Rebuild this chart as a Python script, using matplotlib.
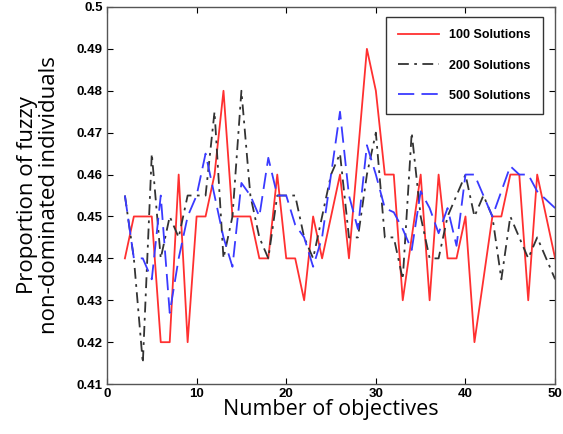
import numpy as np
import matplotlib
matplotlib.use("Agg")
import matplotlib.pyplot as plt

# number of objectives
objectives = list(range(2, 51))

sol_100 = [0.44, 0.45, 0.45, 0.45, 0.42, 0.42, 0.46, 0.42, 0.45, 0.45,
           0.46, 0.48, 0.45, 0.45, 0.45, 0.44, 0.44, 0.46, 0.44, 0.44,
           0.43, 0.45, 0.44, 0.45, 0.46, 0.44, 0.465, 0.49, 0.48, 0.46,
           0.46, 0.43, 0.445, 0.46, 0.43, 0.46, 0.44, 0.44, 0.45, 0.42,
           0.435, 0.45, 0.45, 0.46, 0.46, 0.43, 0.46, 0.45, 0.44]

sol_200 = [0.455, 0.44, 0.415, 0.465, 0.44, 0.45, 0.445, 0.455, 0.455, 0.455,
           0.475, 0.44, 0.45, 0.48, 0.455, 0.445, 0.44, 0.455, 0.455, 0.455,
           0.445, 0.44, 0.45, 0.46, 0.465, 0.445, 0.445, 0.46, 0.47, 0.445,
           0.445, 0.435, 0.47, 0.45, 0.44, 0.44, 0.45, 0.455, 0.46, 0.45,
           0.455, 0.45, 0.435, 0.45, 0.445, 0.44, 0.445, 0.44, 0.435]

sol_500 = [0.455, 0.44, 0.44, 0.435, 0.455, 0.427, 0.44, 0.45, 0.455, 0.465,
           0.455, 0.445, 0.438, 0.458, 0.455, 0.45, 0.464, 0.455, 0.455, 0.448,
           0.445, 0.438, 0.445, 0.46, 0.475, 0.455, 0.447, 0.467, 0.46, 0.452,
           0.451, 0.447, 0.442, 0.456, 0.452, 0.446, 0.452, 0.443, 0.46, 0.46,
           0.455, 0.45, 0.456, 0.462, 0.46, 0.46, 0.456, 0.454, 0.452]

x_ticks = [0, 10, 20, 30, 40, 50]
y_ticks = [0.41, 0.42, 0.43, 0.44, 0.45, 0.46, 0.47, 0.48, 0.49, 0.5]
y_tick_labels = ["0.41", "0.42", "0.43", "0.44", "0.45", "0.46", "0.47",
                 "0.48", "0.49", "0.5"]

fig = plt.figure(figsize=(5.63, 4.34), dpi=100)
ax = fig.add_axes([0.19, 0.115, 0.796, 0.869])

ax.plot(objectives, sol_100, color="#ff3030", linewidth=1.3,
        label="100 Solutions")
ax.plot(objectives, sol_200, color="#333333", linewidth=1.3,
        linestyle=(0, (6, 3, 1.5, 3)), label="200 Solutions")
ax.plot(objectives, sol_500, color="#3a3aff", linewidth=1.3,
        linestyle=(0, (9, 4)), label="500 Solutions")

ax.set_xlim(0, 50)
ax.set_ylim(0.41, 0.5)
ax.set_xticks(x_ticks)
ax.set_xticklabels([str(t) for t in x_ticks], fontweight="bold",
                   fontsize=9.5, family="Liberation Sans")
ax.set_yticks(y_ticks)
ax.set_yticklabels(y_tick_labels, fontweight="bold", fontsize=9.5,
                   family="Liberation Sans")
ax.tick_params(direction="in", top=True, right=True, length=4, width=0.8,
               pad=3)
for s in ax.spines.values():
    s.set_color("#555555")
    s.set_linewidth(1.0)

ax.set_xlabel("Number of objectives", fontsize=15.5, family="Open Sans",
              labelpad=-1)
ax.set_ylabel("Proportion of fuzzy\nnon-dominated individuals", fontsize=16,
              family="Open Sans", labelpad=12, linespacing=1.05)

leg = ax.legend(loc="upper right", bbox_to_anchor=(0.988, 0.99),
                prop={"family": "Liberation Sans", "weight": "bold",
                      "size": 9},
                frameon=True, fancybox=False, handlelength=3.3,
                borderpad=1.0, labelspacing=1.45, handletextpad=0.8)
leg.get_frame().set_edgecolor("black")
leg.get_frame().set_linewidth(1.0)

fig.savefig("out.png", dpi=100)
plt.close(fig)
